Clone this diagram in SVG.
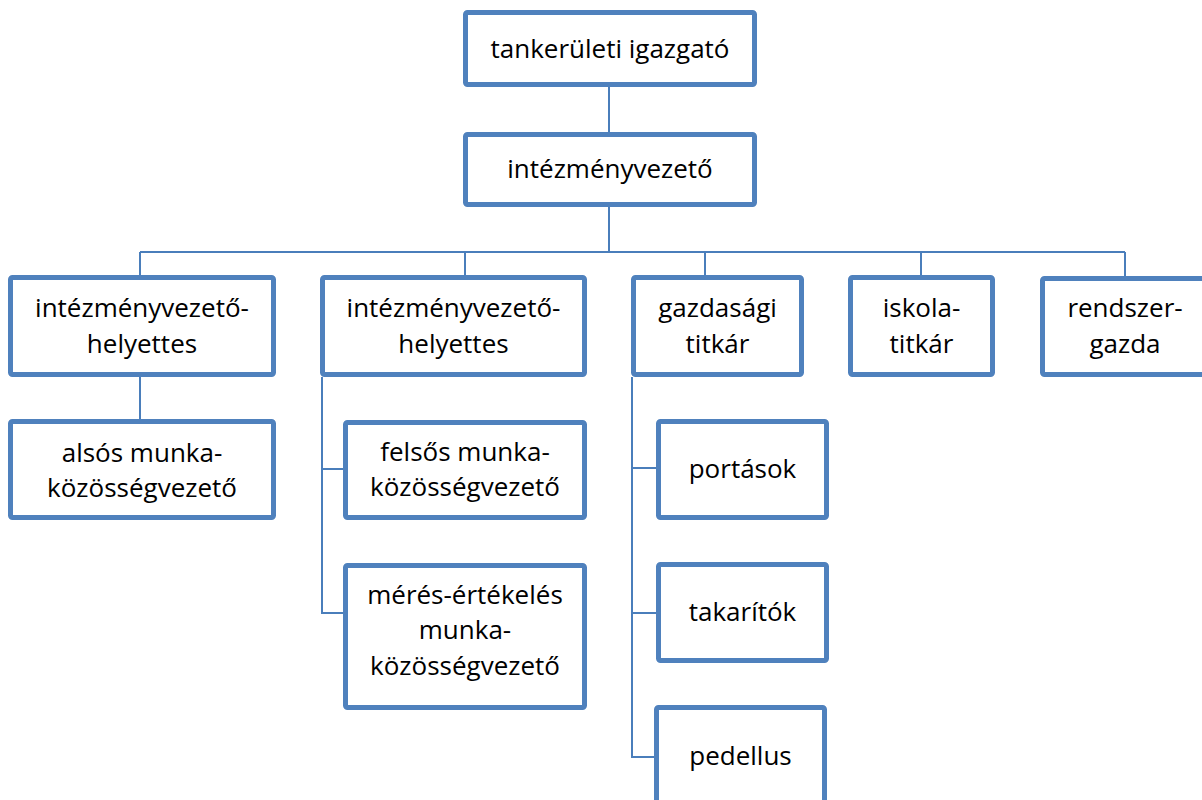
<svg xmlns="http://www.w3.org/2000/svg" width="1202" height="800" viewBox="0 0 1202 800">
<style>
.box{fill:#ffffff;stroke:#4F81BD;stroke-width:5;}
.ln{fill:none;stroke:#4A7EBB;stroke-width:2;}
text{font-family:"Open Sans","Noto Sans","DejaVu Sans",sans-serif;font-size:26px;fill:#000000;text-anchor:middle;}
</style>
<rect width="1202" height="800" fill="#ffffff"/>
<g id="connectors">
<path class="ln" d="M609,87V132"/>
<path class="ln" d="M609,207V252"/>
<path class="ln" d="M140,252H1125"/>
<path class="ln" d="M140,252V275M465,252V275M705,252V275M921,252V275M1125,252V276"/>
<path class="ln" d="M140,377V419"/>
<path class="ln" d="M322,377V613H343M322,469H343"/>
<path class="ln" d="M632,377V757H654M632,468H656M632,613H656"/>
</g>
<g id="n1"><rect class="box" x="465.5" y="12.5" width="289" height="72" rx="2"/><text x="610" y="58">tankerületi igazgató</text></g>
<g id="n2"><rect class="box" x="465.5" y="134.5" width="289" height="70" rx="2"/><text x="610" y="178">intézményvezető</text></g>
<g id="n3"><rect class="box" x="10.5" y="277.5" width="263" height="97" rx="2"/><text x="142" y="317">intézményvezető-</text><text x="142" y="353">helyettes</text></g>
<g id="n4"><rect class="box" x="322.5" y="277.5" width="262" height="97" rx="2"/><text x="453.5" y="317">intézményvezető-</text><text x="453.5" y="353">helyettes</text></g>
<g id="n5"><rect class="box" x="633.5" y="277.5" width="168" height="97" rx="2"/><text x="717.5" y="317">gazdasági</text><text x="717.5" y="353">titkár</text></g>
<g id="n6"><rect class="box" x="850.5" y="277.5" width="142" height="97" rx="2"/><text x="921.5" y="317">iskola-</text><text x="921.5" y="353">titkár</text></g>
<g id="n7"><rect class="box" x="1042.5" y="278.5" width="166" height="96" rx="2"/><text x="1125" y="317">rendszer-</text><text x="1125" y="353">gazda</text></g>
<g id="n8"><rect class="box" x="10.5" y="421.5" width="263" height="96" rx="2"/><text x="142" y="462">alsós munka-</text><text x="142" y="497">közösségvezető</text></g>
<g id="n9"><rect class="box" x="345.5" y="422.5" width="239" height="95" rx="2"/><text x="465" y="461">felsős munka-</text><text x="465" y="496">közösségvezető</text></g>
<g id="n10"><rect class="box" x="345.5" y="565.5" width="239" height="142" rx="2"/><text x="465" y="604">mérés-értékelés</text><text x="465" y="639">munka-</text><text x="465" y="675">közösségvezető</text></g>
<g id="n11"><rect class="box" x="658.5" y="421.5" width="168" height="96" rx="2"/><text x="742.5" y="478">portások</text></g>
<g id="n12"><rect class="box" x="658.5" y="564.5" width="168" height="96" rx="2"/><text x="742.5" y="621">takarítók</text></g>
<g id="n13"><rect class="box" x="656.5" y="707.5" width="168" height="100" rx="2"/><text x="740.5" y="765">pedellus</text></g>
</svg>
